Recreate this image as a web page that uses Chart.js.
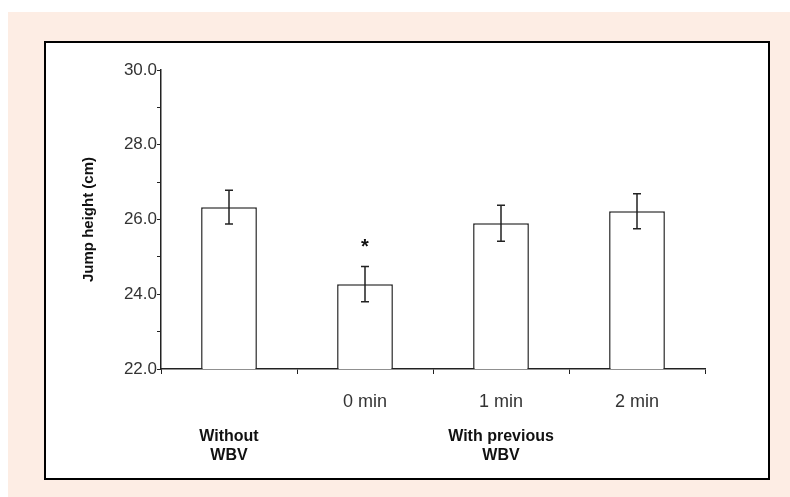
<!DOCTYPE html>
<html>
<head>
<meta charset="utf-8">
<script src="https://cdn.jsdelivr.net/npm/chart.js@4/dist/chart.umd.min.js"></script>
<style>
  html, body { margin: 0; padding: 0; background: #fff; }
  #page { position: absolute; left: 8px; top: 12px; width: 782px; height: 485px; background: #fdede4; }
  #box { position: absolute; left: 36px; top: 29px; width: 722px; height: 435px; border: 2px solid #000; background: #fff; }
  #chart { position: absolute; left: 0; top: 0; }
</style>
</head>
<body>
<div id="page">
  <div id="box">
    <canvas id="chart" width="722" height="435"></canvas>
  </div>
</div>
<script>
// values
const timeLabels = ['', '0 min', '1 min', '2 min'];
const groupLabels = [['Without', 'WBV'], [''], ['With previous', 'WBV'], ['']];
const jumpHeight = [26.33, 24.27, 25.90, 26.22];
const jumpSD = [0.45, 0.47, 0.48, 0.47];
const marks = ['', '*', '', ''];

const errorBars = {
    id: 'errorBars',
    afterDatasetsDraw(chart) {
        const ctx = chart.ctx;
        const y = chart.scales.y;
        const meta = chart.getDatasetMeta(0);
        ctx.save();
        ctx.strokeStyle = '#222';
        ctx.lineWidth = 1.5;
        meta.data.forEach((bar, i) => {
            const top = y.getPixelForValue(jumpHeight[i] + jumpSD[i]);
            const bot = y.getPixelForValue(jumpHeight[i] - jumpSD[i]);
            const x = bar.x;
            ctx.beginPath();
            ctx.moveTo(x, top); ctx.lineTo(x, bot);
            ctx.moveTo(x - 4, top); ctx.lineTo(x + 4, top);
            ctx.moveTo(x - 4, bot); ctx.lineTo(x + 4, bot);
            ctx.stroke();
            if (marks[i]) {
                ctx.fillStyle = '#111';
                ctx.font = 'bold 20px "Liberation Sans", Arial, sans-serif';
                ctx.textAlign = 'center';
                ctx.textBaseline = 'alphabetic';
                ctx.fillText(marks[i], x, top - 14);
            }
        });
        ctx.restore();
    }
};

new Chart(document.getElementById('chart'), {
    type: 'bar',
    data: {
        labels: timeLabels,
        datasets: [{
            data: jumpHeight,
            backgroundColor: '#fff',
            borderColor: '#222',
            borderWidth: 1.5,
            categoryPercentage: 1,
            barPercentage: 0.41
        }]
    },
    options: {
        responsive: false,
        animation: false,
        layout: { padding: { left: 32, right: 63, top: 27, bottom: 14 } },
        plugins: { legend: { display: false }, tooltip: { enabled: false } },
        scales: {
            y: {
                min: 22, max: 30,
                afterFit(s) { s.width = 83; },
                border: { color: '#222', width: 1.5 },
                grid: { drawOnChartArea: false, color: '#222', tickLength: 4 },
                ticks: {
                    stepSize: 1,
                    padding: 0,
                    color: '#333',
                    font: { family: '"Liberation Sans", Arial, sans-serif', size: 17 },
                    callback: v => v % 2 === 0 ? v.toFixed(1) : ''
                },
                title: {
                    display: true,
                    text: 'Jump height (cm)',
                    color: '#111',
                    padding: { top: 2, bottom: 0 },
                    font: { family: '"Liberation Sans", Arial, sans-serif', size: 15, weight: 'bold' }
                }
            },
            x: {
                afterFit(s) { s.height = 45; },
                border: { color: '#222', width: 1.5 },
                grid: { drawOnChartArea: false, color: '#222', tickLength: 5, offset: true },
                ticks: {
                    padding: 17,
                    color: '#333',
                    maxRotation: 0,
                    font: { family: '"Liberation Sans", Arial, sans-serif', size: 18 }
                }
            },
            x2: {
                type: 'category',
                position: 'bottom',
                labels: groupLabels,
                offset: true,
                afterFit(s) { s.height = 50; },
                border: { display: false },
                grid: { display: false, drawTicks: false },
                ticks: {
                    padding: 13,
                    color: '#111',
                    maxRotation: 0,
                    autoSkip: false,
                    font: { family: '"Liberation Sans", Arial, sans-serif', size: 16, weight: 'bold', lineHeight: 1.2 }
                }
            }
        }
    },
    plugins: [errorBars]
});
</script>
</body>
</html>
